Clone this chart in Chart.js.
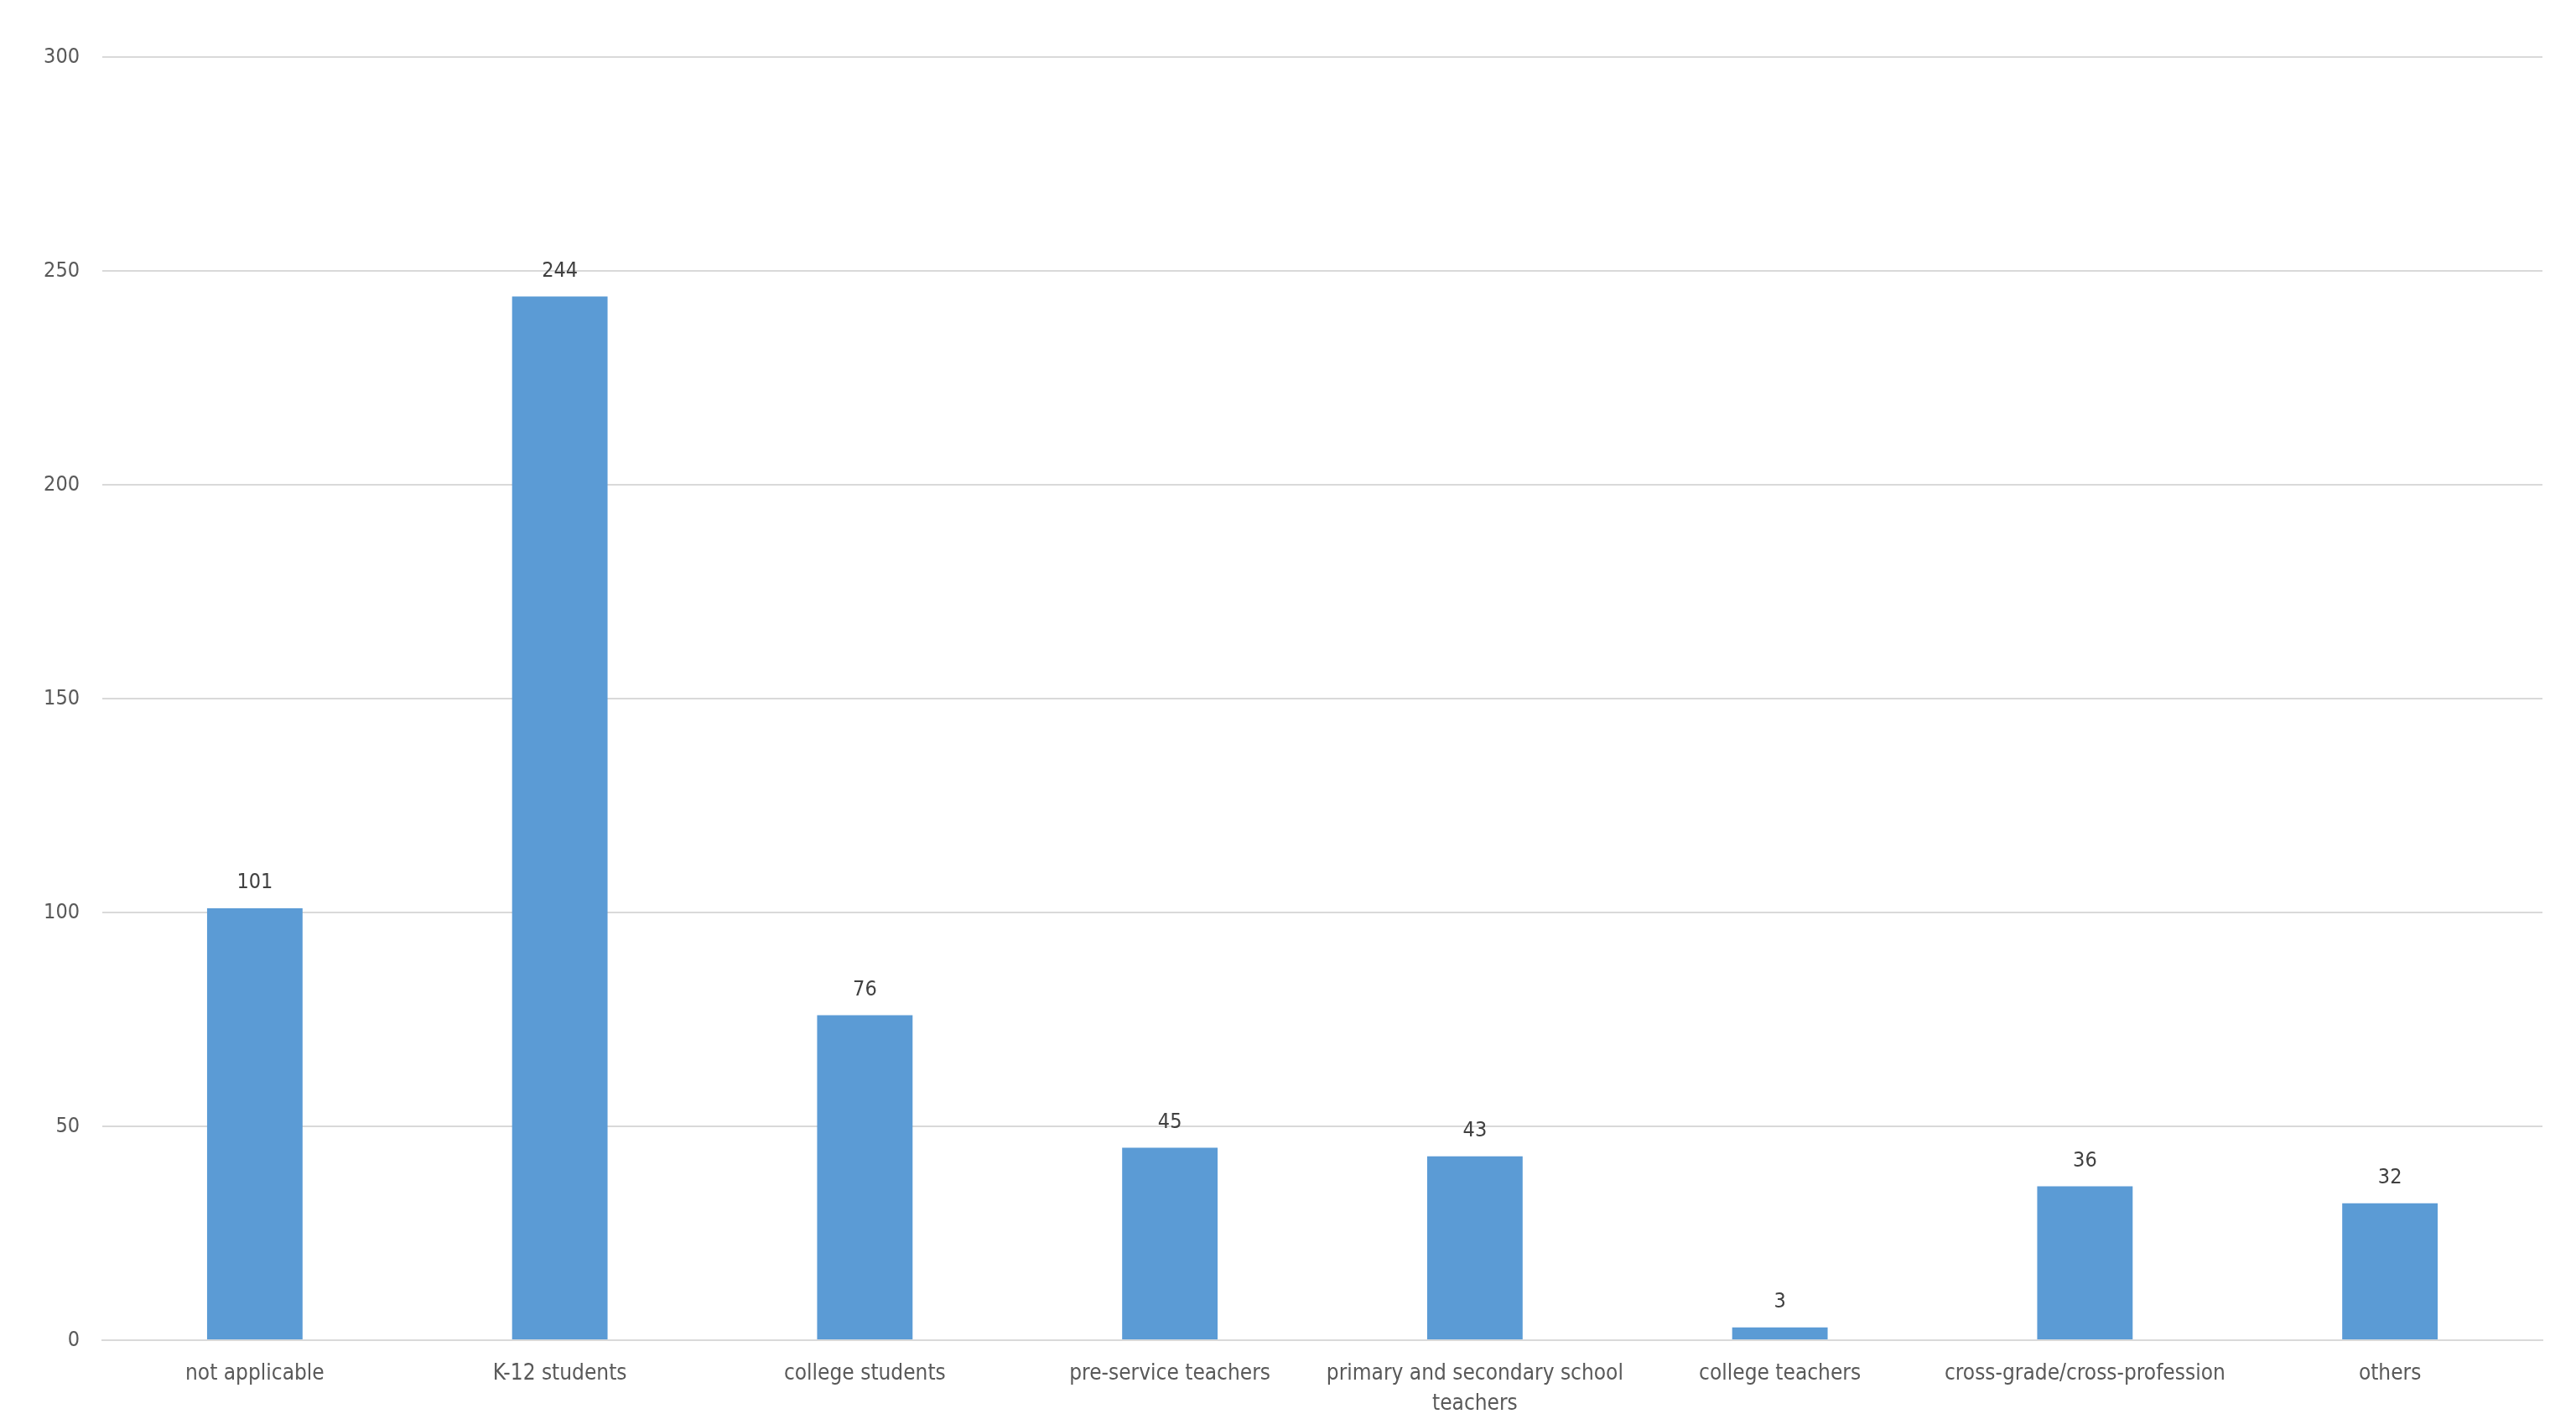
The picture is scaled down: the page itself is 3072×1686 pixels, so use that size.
<!DOCTYPE html>
<html>
<head>
<meta charset="utf-8">
<script src="https://cdn.jsdelivr.net/npm/chart.js@4/dist/chart.umd.min.js"></script>
<style>
html,body{margin:0;padding:0;background:#fff;}
#wrap{width:3072px;height:1686px;position:relative;}
</style>
</head>
<body>
<div id="wrap"><canvas id="c" width="3072" height="1686"></canvas></div>
<script>
const categories = [
  "not applicable",
  "K-12 students",
  "college students",
  "pre-service teachers",
  ["primary and secondary school", "teachers"],
  "college teachers",
  "cross-grade/cross-profession",
  "others"
];
const counts = [101, 244, 76, 45, 43, 3, 36, 32];
const yTicks = [0, 50, 100, 150, 200, 250, 300];

const FONT = "'Liberation Sans Narrow', 'DejaVu Sans Condensed', 'Liberation Sans', sans-serif";

const valueLabels = {
  id: 'valueLabels',
  afterDatasetsDraw(chart) {
    const ctx = chart.ctx;
    const meta = chart.getDatasetMeta(0);
    ctx.save();
    ctx.font = "25px " + FONT;
    ctx.fillStyle = "#404040";
    ctx.textAlign = "center";
    ctx.textBaseline = "middle";
    meta.data.forEach((bar, i) => {
      ctx.fillText(String(counts[i]), bar.x, bar.y - 30);
    });
    ctx.restore();
  }
};

new Chart(document.getElementById('c'), {
  type: 'bar',
  data: {
    labels: categories,
    datasets: [{
      data: counts,
      backgroundColor: '#5b9bd5',
      borderWidth: 0,
      barPercentage: 0.313,
      categoryPercentage: 1.0
    }]
  },
  options: {
    responsive: false,
    animation: false,
    devicePixelRatio: 1,
    layout: { padding: { top: 68, right: 40, bottom: 0, left: 0 } },
    plugins: {
      legend: { display: false },
      tooltip: { enabled: false }
    },
    scales: {
      x: {
        grid: { display: false, drawTicks: false },
        border: { display: true, color: '#d9d9d9', width: 2 },
        ticks: {
          color: '#595959',
          font: { family: FONT, size: 26, lineHeight: 1.4 },
          padding: 22,
          maxRotation: 0,
          autoSkip: false
        },
        afterFit(s) { s.height = 88; }
      },
      y: {
        min: 0,
        max: 300,
        afterBuildTicks(s) { s.ticks = yTicks.map(v => ({ value: v })); },
        grid: { color: '#d9d9d9', lineWidth: 2, drawTicks: false },
        border: { display: false },
        ticks: {
          color: '#595959',
          font: { family: FONT, size: 25 },
          padding: 27
        },
        afterFit(s) { s.width = 122; }
      }
    }
  },
  plugins: [valueLabels]
});
</script>
</body>
</html>
